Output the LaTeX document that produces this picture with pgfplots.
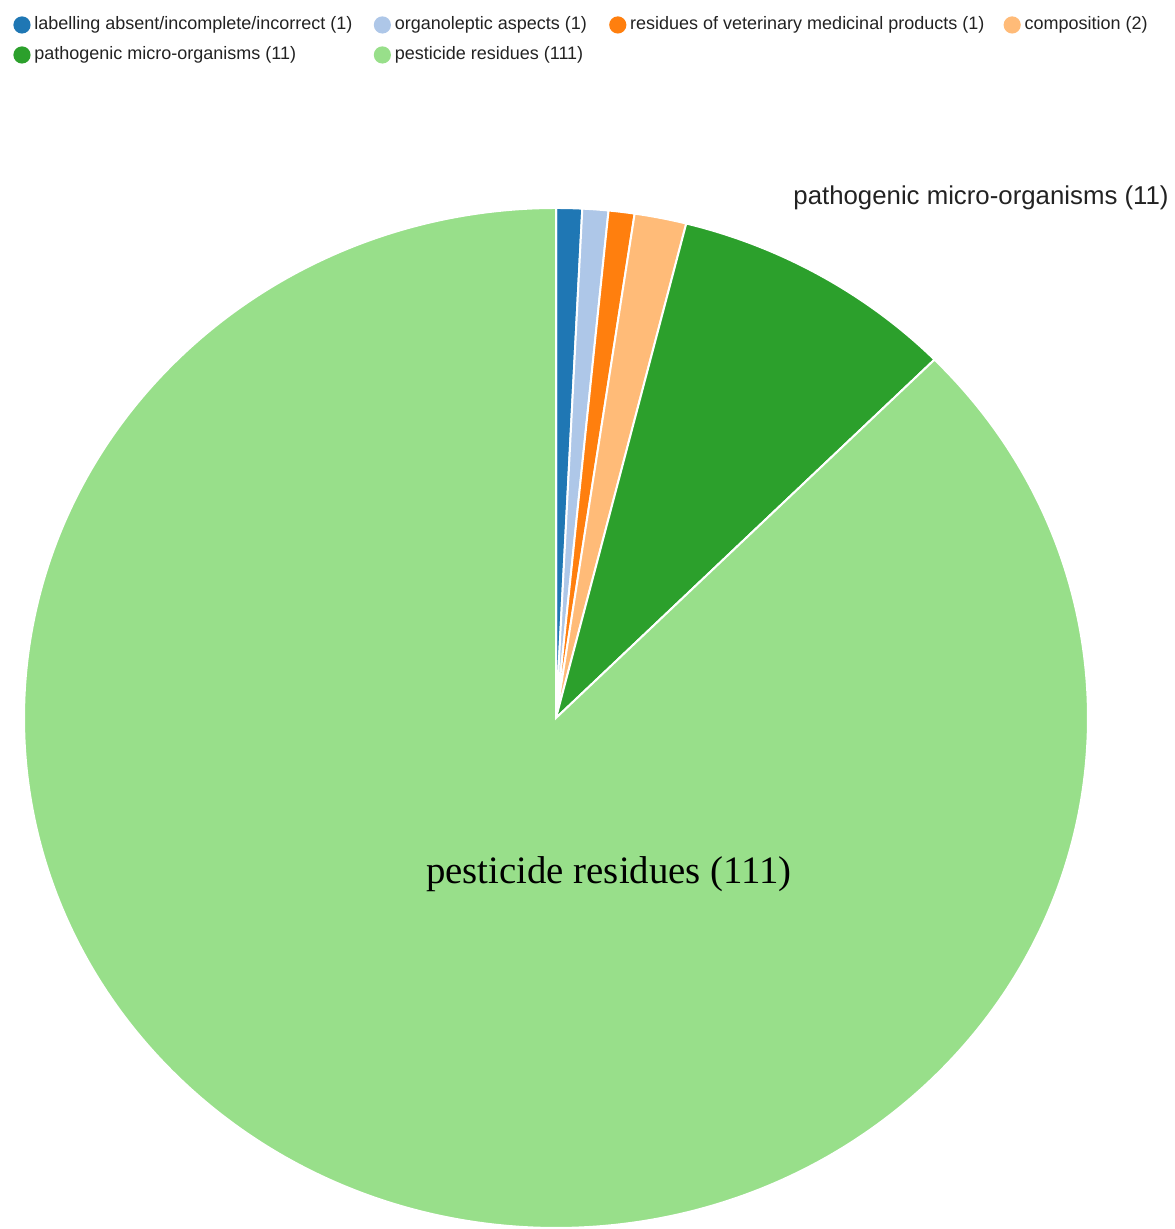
\documentclass[border=0pt]{standalone}
\usepackage{pgfplots}
\pgfplotsset{compat=1.18}
\usepackage{pgfplotstable}
\usepackage{fontspec}
\setmainfont{Liberation Sans}
\newfontfamily\seriffont{Liberation Serif}
\definecolor{c1}{HTML}{1F77B4}
\definecolor{c2}{HTML}{AEC7E8}
\definecolor{c3}{HTML}{FF7F0E}
\definecolor{c4}{HTML}{FFBB78}
\definecolor{c5}{HTML}{2CA02C}
\definecolor{c6}{HTML}{98DF8A}
\definecolor{txt}{HTML}{222222}

\pgfplotstableread[col sep=comma]{
category,value,color
labelling absent/incomplete/incorrect,1,c1
organoleptic aspects,1,c2
residues of veterinary medicinal products,1,c3
composition,2,c4
pathogenic micro-organisms,11,c5
pesticide residues,111,c6
}\piedata

\begin{document}
\begin{tikzpicture}
\begin{axis}[
  x=0.5pt, y=0.5pt, scale only axis,
  xmin=0, xmax=1174, ymin=0, ymax=1229,
  axis line style={draw=none}, ticks=none,
  clip=false,
  legend columns=4,
  legend image code/.code={\path (-4.3pt,0pt) (6pt,0pt); \fill[#1,draw=none] (0pt,0pt) circle (4.3pt);},
  legend cell align=left,
  legend style={draw=none, fill=none, inner sep=0pt, outer sep=0pt,
     at={(0.01107,0.9870)}, anchor=north west,
     font=\fontsize{9}{11}\selectfont, text=txt,
     row sep=6pt, column sep=0pt,
     nodes={inner sep=0pt, text height=7pt, text depth=2pt},
  },
]
\pgfplotstablegetrowsof{\piedata}
\pgfmathtruncatemacro\nrows{\pgfplotsretval-1}
\gdef\total{0}
\pgfplotsforeachungrouped \i in {0,...,\nrows}{%
  \pgfplotstablegetelem{\i}{value}\of\piedata
  \pgfmathsetmacro\newtotal{\total+\pgfplotsretval}%
  \global\let\total\newtotal
}
\gdef\astart{90}
\pgfplotsforeachungrouped \i in {0,...,\nrows}{%
  \pgfplotstablegetelem{\i}{value}\of\piedata \let\sliceval\pgfplotsretval
  \pgfplotstablegetelem{\i}{color}\of\piedata \let\slicecol\pgfplotsretval
  \pgfmathsetmacro\aend{\astart-(360/\total)*\sliceval}%
  \edef\temp{\noexpand\filldraw[overlay, fill=\slicecol, draw=white, line width=1pt] (axis cs:556,511) -- ++(\astart:266pt and 255pt) arc[start angle=\astart, end angle=\aend, x radius=266pt, y radius=255pt] -- cycle;}%
  \temp
  \global\let\astart\aend
}
\addlegendimage{fill=c1}
\addlegendimage{fill=c2}
\addlegendimage{fill=c3}
\addlegendimage{fill=c4}
\addlegendimage{fill=c5}
\addlegendimage{fill=c6}
\legend{\makebox[169.5pt][l]{labelling absent/incomplete/incorrect (1)},\makebox[107pt][l]{organoleptic aspects (1)},\makebox[186.5pt][l]{residues of veterinary medicinal products (1)},composition (2),pathogenic micro-organisms (11),pesticide residues (111)}
\node[anchor=west, font=\fontsize{12.9}{15}\selectfont, text=txt, inner sep=0pt] at (axis cs:793,1031) {pathogenic micro-organisms (11)};
\node[font=\seriffont\fontsize{19.4}{22}\selectfont, text=black, inner sep=0pt] at (axis cs:609,355) {pesticide residues (111)};
\end{axis}
\end{tikzpicture}
\end{document}
